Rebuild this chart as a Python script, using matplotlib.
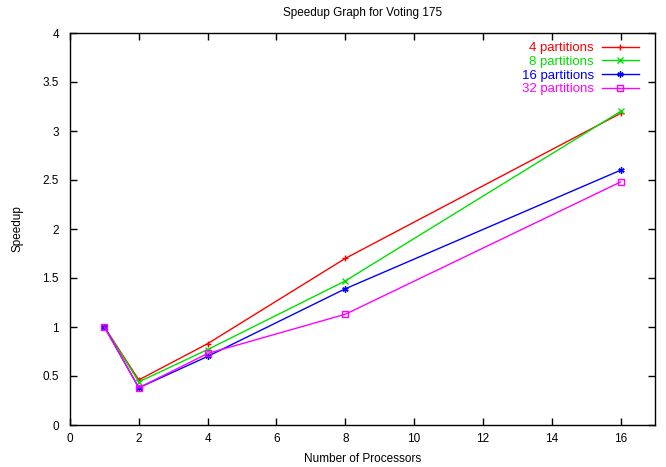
import matplotlib
matplotlib.use("Agg")
import matplotlib.pyplot as plt

# data
processors = [1, 2, 4, 8, 16]
speedup_4 = [1.0, 0.46, 0.83, 1.70, 3.18]
speedup_8 = [1.0, 0.44, 0.77, 1.47, 3.20]
speedup_16 = [1.0, 0.38, 0.70, 1.39, 2.60]
speedup_32 = [1.0, 0.38, 0.73, 1.13, 2.48]

series = [
    ("4 partitions", speedup_4, "#ff0000", "+", "full"),
    ("8 partitions", speedup_8, "#00e000", "x", "full"),
    ("16 partitions", speedup_16, "#0000ff", (6, 2, 0), "full"),
    ("32 partitions", speedup_32, "#ff00ff", "s", "none"),
]

plt.rcParams["font.family"] = ["Liberation Sans", "DejaVu Sans"]
plt.rcParams["font.size"] = 8.5

fig = plt.figure(figsize=(6.66, 4.67), dpi=100)
ax = fig.add_axes([70 / 666, 1 - 425 / 467, 585 / 666, 392 / 467])

for label, vals, color, marker, fill in series:
    ax.plot(processors, vals, color=color, linewidth=1, marker=marker,
            markersize=4.5, markeredgewidth=1, fillstyle=fill, label=label)

ax.set_xlim(0, 17)
ax.set_ylim(0, 4)
ax.set_xticks(range(0, 17, 2))
ax.set_yticks([0, 0.5, 1, 1.5, 2, 2.5, 3, 3.5, 4])
ax.set_yticklabels(["0", "0.5", "1", "1.5", "2", "2.5", "3", "3.5", "4"])
ax.tick_params(direction="in", top=True, right=True, length=5, width=1)
ax.tick_params(axis="y", pad=8)
ax.tick_params(axis="x", pad=6)
for s in ax.spines.values():
    s.set_linewidth(1)

ax.set_xlabel("Number of Processors")
ax.set_ylabel("Speedup")
ax.xaxis.set_label_coords(0.5, -28 / 392)
ax.yaxis.set_label_coords(-46 / 585, 0.5)
ax.set_title("Speedup Graph for Voting 175", fontsize=8.5, pad=12)

leg = ax.legend(loc="upper right", frameon=False, markerfirst=False,
                labelcolor="linecolor", handlelength=2.8, borderaxespad=0.3,
                labelspacing=0.1, handletextpad=0.6, fontsize=9.5,
                bbox_to_anchor=(1 - 7 / 585, 1))

fig.savefig("out.png", dpi=100)
